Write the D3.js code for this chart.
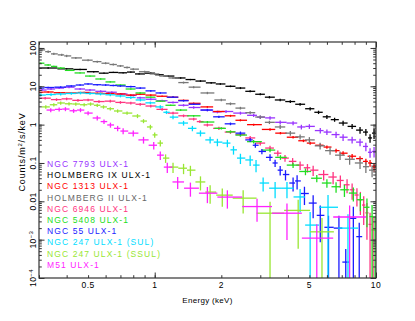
<!DOCTYPE html>
<html>
<head>
<meta charset="utf-8">
<script src="https://cdn.jsdelivr.net/npm/d3@7"></script>
<style>
  body { margin: 0; background: #fff; }
  svg { display: block; font-family: 'Liberation Sans', Arial, sans-serif; }
</style>
</head>
<body>
<svg id="chart" width="415" height="321"></svg>
<script>
// each point: [energy keV, counts/m2/s/keV, relative error]
const ngc7793 = [
  [0.31, 8.0, 0.06], [0.34, 8.5, 0.06], [0.37, 9.0, 0.06], [0.41, 9.5, 0.06], [0.46, 8.5, 0.06],
  [0.51, 8.0, 0.06], [0.57, 7.4, 0.06], [0.64, 7.0, 0.06], [0.71, 6.3, 0.06], [0.80, 5.8, 0.06],
  [0.86, 5.0, 0.06], [0.96, 4.6, 0.06], [1.08, 4.2, 0.06], [1.21, 3.8, 0.06], [1.35, 3.2, 0.07],
  [1.5, 2.8, 0.07], [1.73, 2.4, 0.08], [1.92, 2.15, 0.08], [2.1, 2.2, 0.08], [2.44, 2.0, 0.09],
  [2.8, 1.75, 0.1], [3.0, 1.57, 0.1], [3.32, 1.5, 0.1], [3.69, 1.15, 0.12], [4.22, 1.1, 0.12],
  [4.6, 0.87, 0.14], [5.0, 0.9, 0.14], [5.6, 0.7, 0.16], [6.0, 0.64, 0.16], [6.6, 0.55, 0.18],
  [7.1, 0.47, 0.2], [7.8, 0.4, 0.2], [8.47, 0.35, 0.22], [9.0, 0.27, 0.25], [9.4, 0.19, 0.28], [9.8, 0.2, 0.3],
];
const holmbergIX = [
  [0.33, 30, 0.04], [0.40, 28.5, 0.04], [0.46, 27.5, 0.04], [0.53, 24, 0.04], [0.59, 22, 0.04],
  [0.65, 23, 0.04], [0.72, 22.5, 0.04], [0.78, 23.5, 0.04], [0.85, 21, 0.04], [0.96, 22, 0.04],
  [1.05, 20, 0.04], [1.15, 18.5, 0.04], [1.31, 16.5, 0.04], [1.45, 15, 0.04], [1.61, 13.7, 0.05],
  [1.8, 12.3, 0.05], [1.98, 11.5, 0.05], [2.2, 10, 0.05], [2.44, 9, 0.06], [2.7, 7.4, 0.06],
  [3.0, 6.2, 0.06], [3.3, 5.2, 0.07], [3.69, 4.4, 0.07], [4.1, 4.0, 0.08], [4.54, 3.4, 0.08],
  [5.04, 2.6, 0.1], [5.5, 2.1, 0.1], [6.0, 1.6, 0.12], [6.5, 1.35, 0.12], [7.1, 1.1, 0.15],
  [7.8, 0.9, 0.15], [8.47, 0.72, 0.2], [9.0, 0.64, 0.2], [9.4, 0.45, 0.25], [9.8, 0.6, 0.3],
];
const ngc1313 = [
  [0.30, 7.0, 0.05], [0.33, 7.1, 0.05], [0.37, 6.8, 0.05], [0.42, 6.7, 0.05], [0.48, 6.9, 0.05],
  [0.55, 6.6, 0.05], [0.62, 6.5, 0.05], [0.70, 6.3, 0.05], [0.78, 5.9, 0.05], [0.86, 6.2, 0.05],
  [0.96, 5.9, 0.05], [1.08, 5.5, 0.05], [1.21, 5.2, 0.05], [1.35, 4.3, 0.05], [1.5, 3.6, 0.05],
  [1.73, 2.9, 0.05], [1.95, 2.2, 0.05], [2.2, 1.7, 0.06], [2.44, 1.3, 0.06], [2.8, 1.0, 0.06],
  [3.32, 0.75, 0.07], [3.7, 0.6, 0.07], [4.22, 0.47, 0.08], [4.7, 0.38, 0.08], [5.04, 0.33, 0.09],
  [5.6, 0.29, 0.1], [6.0, 0.26, 0.1], [6.6, 0.21, 0.12], [7.1, 0.18, 0.12], [7.8, 0.15, 0.14],
  [8.47, 0.13, 0.15], [9.0, 0.11, 0.18], [9.4, 0.1, 0.2], [9.8, 0.08, 0.25],
];
const holmbergII = [
  [0.31, 89, 0.08], [0.33, 80, 0.08], [0.35, 70, 0.07], [0.38, 66, 0.07], [0.40, 62, 0.07],
  [0.44, 55, 0.06], [0.50, 48, 0.06], [0.55, 44, 0.06], [0.60, 40, 0.06], [0.65, 37, 0.06],
  [0.70, 34, 0.06], [0.75, 31, 0.06], [0.80, 28, 0.06], [0.90, 24, 0.06], [1.00, 21, 0.06],
  [1.10, 18.5, 0.06], [1.21, 16.5, 0.06], [1.35, 12.5, 0.06], [1.50, 9.5, 0.06], [1.73, 6.7, 0.07],
  [2.0, 4.4, 0.07], [2.2, 3.5, 0.08], [2.44, 2.7, 0.08], [2.7, 2.05, 0.09], [3.0, 1.58, 0.1],
  [3.3, 1.15, 0.1], [3.69, 0.87, 0.12], [4.1, 0.6, 0.14], [4.54, 0.48, 0.15], [5.0, 0.4, 0.18],
  [5.59, 0.28, 0.2], [6.2, 0.21, 0.22], [6.88, 0.16, 0.25], [7.6, 0.125, 0.28], [8.47, 0.1, 0.3],
  [9.0, 0.08, 0.32], [9.6, 0.065, 0.35],
];
const ngc6946 = [
  [0.32, 4.9, 0.08], [0.36, 4.5, 0.08], [0.40, 4.7, 0.08], [0.45, 4.3, 0.08], [0.50, 4.4, 0.08],
  [0.56, 4.0, 0.08], [0.63, 4.1, 0.08], [0.70, 3.8, 0.08], [0.78, 3.67, 0.08], [0.86, 3.4, 0.08],
  [0.96, 3.06, 0.08], [1.08, 2.5, 0.08], [1.21, 2.0, 0.08], [1.35, 1.7, 0.08], [1.5, 1.4, 0.08],
  [1.6, 1.2, 0.08], [1.73, 0.98, 0.09], [1.95, 0.8, 0.1], [2.2, 0.64, 0.1], [2.44, 0.55, 0.12],
  [2.7, 0.45, 0.12], [3.0, 0.33, 0.14], [3.32, 0.245, 0.15], [3.6, 0.18, 0.18], [3.88, 0.134, 0.2],
  [4.2, 0.11, 0.22], [4.54, 0.088, 0.25], [4.9, 0.075, 0.25], [5.2, 0.065, 0.3], [5.8, 0.05, 0.3],
  [6.4, 0.043, 0.35], [6.9, 0.035, 0.35], [7.4, 0.027, 0.4], [7.8, 0.02, 0.45], [8.2, 0.0146, 0.5],
  [8.5, 0.011, 0.6], [8.8, 0.008, 0.7], [9.1, 0.005, 0.8], [9.4, 0.0025, 1.0], [9.7, 0.0018, 1.2],
];
const ngc5408 = [
  [0.305, 40, 0.04], [0.33, 36, 0.04], [0.35, 33, 0.04], [0.376, 30, 0.04], [0.41, 26, 0.04],
  [0.46, 22.3, 0.04], [0.51, 18.5, 0.04], [0.57, 15.5, 0.04], [0.63, 13, 0.04], [0.70, 10.8, 0.04],
  [0.78, 8.5, 0.04], [0.86, 6.7, 0.04], [0.96, 5.2, 0.04], [1.06, 4.1, 0.04], [1.18, 3.2, 0.04],
  [1.31, 2.4, 0.05], [1.5, 1.7, 0.05], [1.73, 1.17, 0.06], [2.0, 0.8, 0.07], [2.2, 0.65, 0.08],
  [2.44, 0.535, 0.08], [2.8, 0.36, 0.1], [3.32, 0.217, 0.12], [3.7, 0.14, 0.14], [4.22, 0.088, 0.16],
  [4.8, 0.06, 0.2], [5.4, 0.04, 0.22], [6.0, 0.03, 0.25], [6.6, 0.024, 0.3], [7.2, 0.02, 0.35],
  [7.9, 0.0164, 0.4], [8.5, 0.011, 0.5], [9.1, 0.007, 0.7], [9.6, 0.004, 1.0], [9.9, 0.0018, 1.3],
];
const ngc55 = [
  [0.305, 9.0, 0.05], [0.33, 9.3, 0.05], [0.376, 9.5, 0.05], [0.42, 10.2, 0.05], [0.46, 10.8, 0.05],
  [0.5, 11.5, 0.05], [0.55, 11, 0.05], [0.6, 10.8, 0.05], [0.65, 10.5, 0.05], [0.70, 10.2, 0.05],
  [0.78, 9.8, 0.05], [0.86, 9.0, 0.05], [0.96, 7.6, 0.05], [1.06, 6.7, 0.05], [1.21, 5.2, 0.05],
  [1.35, 4.2, 0.05], [1.5, 3.4, 0.05], [1.73, 2.4, 0.06], [1.95, 1.6, 0.07], [2.2, 1.05, 0.08],
  [2.44, 0.6, 0.1], [2.7, 0.4, 0.12], [2.85, 0.29, 0.14], [3.05, 0.2, 0.16], [3.32, 0.14, 0.2],
  [3.5, 0.1, 0.22], [3.69, 0.065, 0.28], [3.9, 0.05, 0.3], [4.22, 0.03, 0.4], [4.4, 0.034, 0.4],
  [4.75, 0.016, 0.5], [5.2, 0.009, 0.6], [5.6, 0.0043, 0.8], [6.1, 0.0021, 1.0], [6.8, 0.002, 1.1],
  [7.3, 0.00026, 1.2], [7.9, 0.0036, 1.0], [8.4, 0.0012, 1.3],
];
const ngc247SUL = [
  [0.305, 5.9, 0.08], [0.34, 6.1, 0.08], [0.376, 6.3, 0.08], [0.42, 6.5, 0.08], [0.462, 6.7, 0.08],
  [0.51, 6.5, 0.08], [0.569, 6.3, 0.08], [0.63, 6.0, 0.08], [0.70, 5.6, 0.08], [0.78, 5.1, 0.08],
  [0.862, 4.4, 0.08], [0.956, 3.7, 0.08], [1.06, 2.9, 0.1], [1.13, 2.1, 0.1], [1.21, 1.57, 0.12],
  [1.35, 1.1, 0.14], [1.48, 0.8, 0.16], [1.61, 0.6, 0.18], [1.78, 0.40, 0.2], [1.92, 0.35, 0.22],
  [2.13, 0.33, 0.22], [2.27, 0.22, 0.25], [2.44, 0.134, 0.3], [2.70, 0.12, 0.3], [2.87, 0.088, 0.35],
  [3.09, 0.03, 0.4], [3.5, 0.022, 0.45], [3.96, 0.022, 0.45], [4.54, 0.013, 0.6], [5.04, 0.0024, 1.2],
  [6.07, 0.007, 1.1], [7.47, 0.002, 1.3],
];
const ngc247SSUL = [
  [0.322, 2.9, 0.1], [0.35, 3.3, 0.1], [0.376, 3.67, 0.1], [0.41, 3.5, 0.1], [0.44, 3.45, 0.1],
  [0.48, 3.3, 0.1], [0.513, 3.45, 0.1], [0.55, 3.2, 0.1], [0.587, 2.9, 0.1], [0.63, 2.6, 0.1],
  [0.68, 2.27, 0.1], [0.75, 2.0, 0.1], [0.836, 1.68, 0.12], [0.89, 1.24, 0.12], [0.956, 0.87, 0.14],
  [1.0, 0.54, 0.16], [1.06, 0.33, 0.18], [1.12, 0.134, 0.25], [1.21, 0.078, 0.3], [1.35, 0.073, 0.3],
  [1.45, 0.065, 0.3], [1.61, 0.032, 0.4], [1.78, 0.0174, 0.5], [2.02, 0.0145, 0.5], [2.51, 0.0121, 0.6],
  [3.32, 0.0049, 1.0], [4.45, 0.0058, 0.9], [5.7, 0.0016, 1.3],
];
const m51 = [
  [0.339, 2.4, 0.12], [0.37, 2.5, 0.12], [0.395, 2.55, 0.12], [0.43, 2.3, 0.12], [0.462, 2.4, 0.12],
  [0.50, 2.0, 0.12], [0.55, 1.49, 0.14], [0.59, 1.2, 0.14], [0.631, 0.98, 0.15], [0.68, 0.8, 0.16],
  [0.72, 0.68, 0.18], [0.8, 0.6, 0.18], [0.89, 0.4, 0.2], [0.99, 0.29, 0.22], [1.06, 0.16, 0.25],
  [1.14, 0.078, 0.3], [1.27, 0.032, 0.35], [1.45, 0.022, 0.4], [1.73, 0.0163, 0.45], [2.13, 0.0129, 0.5],
  [2.9, 0.0073, 0.6], [3.96, 0.0049, 0.8], [5.4, 0.0011, 1.3], [7.6, 0.0039, 1.0],
];

const seriesNames = [
  'NGC 7793 ULX-1', 'HOLMBERG IX ULX-1', 'NGC 1313 ULX-1', 'HOLMBERG II ULX-1', 'NGC 6946 ULX-1',
  'NGC 5408 ULX-1', 'NGC 55 ULX-1', 'NGC 247 ULX-1 (SUL)', 'NGC 247 ULX-1 (SSUL)', 'M51 ULX-1',
];
const seriesData = [ngc7793, holmbergIX, ngc1313, holmbergII, ngc6946, ngc5408, ngc55, ngc247SUL, ngc247SSUL, m51];
const seriesColors = ['#9933ff', '#000000', '#ff0000', '#777777', '#ff3380', '#22dd22', '#1a1aff', '#00ddff', '#99e633', '#ff22ff'];

const xTickLabels = [0.5, 1, 2, 5, 10];
const yTickLabels = [
  { v: 100, base: '100' }, { v: 10, base: '10' }, { v: 1, base: '1' }, { v: 0.1, base: '0.1' },
  { v: 0.01, base: '0.01' }, { v: 1e-3, base: '10', sup: '\u22123' }, { v: 1e-4, base: '10', sup: '\u22124' },
];

const svg = d3.select('#chart');
const margin = { top: 42, right: 39, bottom: 43, left: 39 };
const width = +svg.attr('width') - margin.left - margin.right;
const height = +svg.attr('height') - margin.top - margin.bottom;
const g = svg.append('g').attr('transform', `translate(${margin.left},${margin.top})`);
const axisColor = '#333';

const x = d3.scaleLog().domain([0.3, 10]).range([0, width]);
const y = d3.scaleLog().domain([1e-4, 143]).range([height, 0]);

svg.append('defs').append('clipPath').attr('id', 'plot-clip')
  .append('rect').attr('width', width).attr('height', height);

// spectra: one cross per bin, horizontal bar spans the bin
const plot = g.append('g').attr('clip-path', 'url(#plot-clip)');
seriesData.forEach((pts, si) => {
  const es = pts.map(p => p[0]);
  const edge = (i) => {
    if (i <= 0) return es[0] / Math.sqrt(es[1] / es[0]);
    if (i >= es.length) return es[es.length - 1] * Math.sqrt(es[es.length - 1] / es[es.length - 2]);
    return Math.sqrt(es[i - 1] * es[i]);
  };
  const sg = plot.append('g').attr('stroke', seriesColors[si]).attr('stroke-width', 1.3);
  pts.forEach(([e, v, err], i) => {
    const lo = v * (1 - err);
    sg.append('line')
      .attr('x1', x(edge(i))).attr('x2', x(edge(i + 1)))
      .attr('y1', y(v)).attr('y2', y(v));
    sg.append('line')
      .attr('x1', x(e)).attr('x2', x(e))
      .attr('y1', y(v * (1 + err)))
      .attr('y2', lo > 0 ? y(lo) : height + 5);
  });
});

// ticks, pointing inwards on all four sides
const xMinor = x.ticks();
const xMajor = xMinor.filter(t => Math.abs(Math.log10(t) % 1) < 1e-9);
const yMinor = y.ticks();
const yMajor = yMinor.filter(t => Math.abs(Math.log10(t) - Math.round(Math.log10(t))) < 1e-9);

const tickAxis = (axisFn, scale, values, size, transform) => {
  g.append('g').attr('transform', transform)
    .call(axisFn(scale).tickValues(values).tickSize(-size).tickSizeOuter(0).tickFormat(''))
    .call(a => a.select('.domain').remove())
    .selectAll('line').attr('stroke', axisColor);
};
[[xMinor, 2.8], [xMajor, 5.5]].forEach(([vals, s]) => {
  tickAxis(d3.axisBottom, x, vals, s, `translate(0,${height})`);
  tickAxis(d3.axisTop, x, vals, s, 'translate(0,0)');
});
[[yMinor, 2.8], [yMajor, 5.5]].forEach(([vals, s]) => {
  tickAxis(d3.axisLeft, y, vals, s, 'translate(0,0)');
  tickAxis(d3.axisRight, y, vals, s, `translate(${width},0)`);
});

g.append('rect')
  .attr('width', width).attr('height', height)
  .attr('fill', 'none').attr('stroke', axisColor).attr('stroke-width', 1.2);

// tick labels
g.selectAll('.xlab').data(xTickLabels).enter().append('text')
  .attr('x', d => x(d)).attr('y', height + 10)
  .attr('text-anchor', 'middle').attr('font-size', 8.5).attr('letter-spacing', 0.4).attr('fill', '#000')
  .text(d => d);

yTickLabels.forEach(d => {
  const t = g.append('text')
    .attr('transform', `translate(-3,${y(d.v)}) rotate(-90)`)
    .attr('text-anchor', 'middle').attr('font-size', 8.5).attr('letter-spacing', 0.4).attr('fill', '#000')
    .text(d.base);
  if (d.sup) t.append('tspan').attr('dy', -3).attr('font-size', 6).text(d.sup);
});

// axis titles
svg.append('text')
  .attr('x', margin.left + width / 2).attr('y', 303)
  .attr('text-anchor', 'middle').attr('font-size', 8).attr('letter-spacing', 0.3).text('Energy (keV)');

const ylab = svg.append('text')
  .attr('transform', `translate(25,${margin.top + height / 2 - 8}) rotate(-90)`)
  .attr('text-anchor', 'middle').attr('font-size', 9).attr('letter-spacing', 0.8).text('Counts/m');
ylab.append('tspan').attr('dy', -3).attr('font-size', 6).text('2');
ylab.append('tspan').attr('dy', 3).text('/s/keV');

// legend
svg.selectAll('.legend').data(seriesNames).enter().append('text')
  .attr('x', 47).attr('y', (d, i) => 167 + i * 11.2)
  .attr('font-size', 8.5).attr('letter-spacing', 1.1)
  .attr('fill', (d, i) => (i === 3 ? '#666' : seriesColors[i]))
  .text(d => d);
</script>
</body>
</html>
